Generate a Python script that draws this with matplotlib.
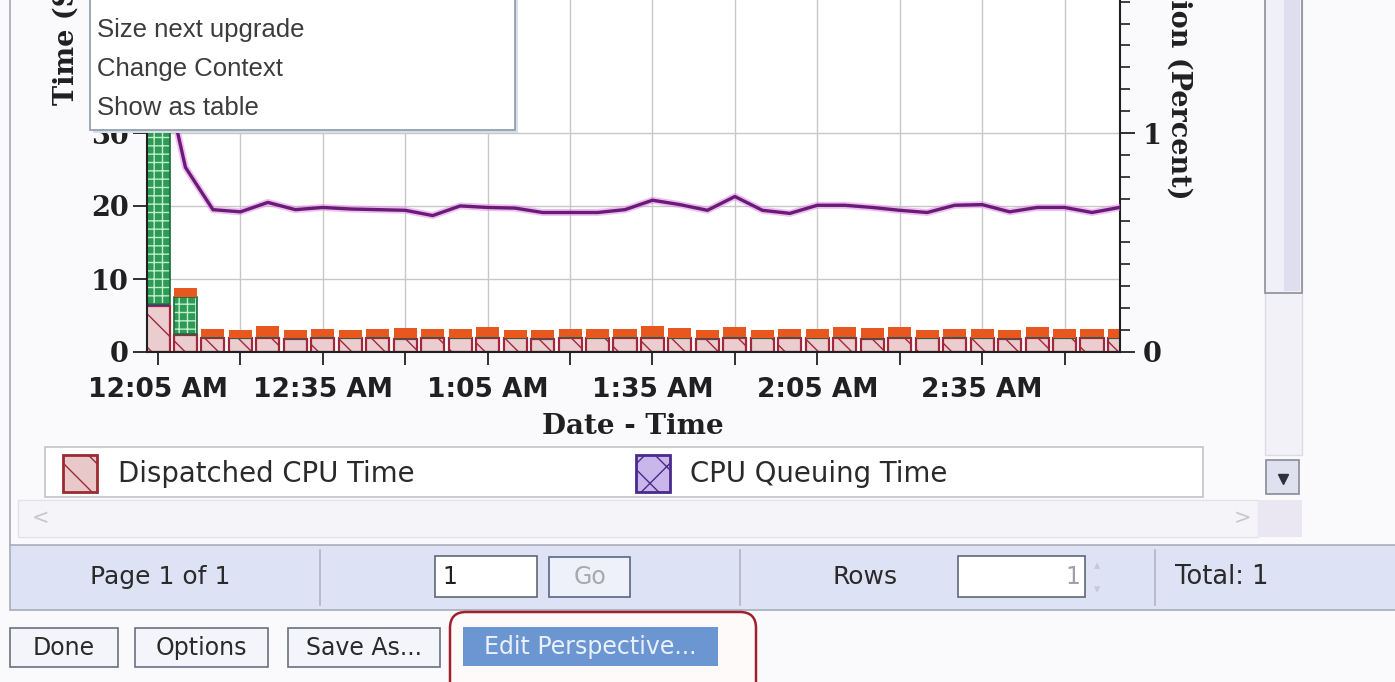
import matplotlib
matplotlib.use("Agg")
import matplotlib.pyplot as plt
import numpy as np
from matplotlib.patches import Rectangle, FancyBboxPatch
from matplotlib.lines import Line2D
from matplotlib.transforms import Affine2D
from matplotlib.ticker import MultipleLocator

W, H = 1395, 682

# 5 minute intervals
times = ["12:05 AM", "12:10 AM", "12:15 AM", "12:20 AM", "12:25 AM", "12:30 AM",
         "12:35 AM", "12:40 AM", "12:45 AM", "12:50 AM", "12:55 AM", "1:00 AM",
         "1:05 AM", "1:10 AM", "1:15 AM", "1:20 AM", "1:25 AM", "1:30 AM",
         "1:35 AM", "1:40 AM", "1:45 AM", "1:50 AM", "1:55 AM", "2:00 AM",
         "2:05 AM", "2:10 AM", "2:15 AM", "2:20 AM", "2:25 AM", "2:30 AM",
         "2:35 AM", "2:40 AM", "2:45 AM", "2:50 AM", "2:55 AM", "3:00 AM"]

# seconds (left axis)
dispatched_cpu = [6.3, 2.3, 1.9, 1.85, 1.9, 1.8, 1.9, 1.85, 1.9, 1.8, 1.9, 1.85,
                  1.9, 1.85, 1.8, 1.9, 1.85, 1.9, 1.9, 1.85, 1.8, 1.9, 1.85, 1.9,
                  1.85, 1.9, 1.8, 1.9, 1.85, 1.9, 1.85, 1.8, 1.9, 1.85, 1.9, 1.85]
cpu_queuing = [0.3, 0.2, 0.1, 0.1, 0.1, 0.1, 0.1, 0.1, 0.1, 0.1, 0.1, 0.1,
               0.1, 0.1, 0.1, 0.1, 0.1, 0.1, 0.1, 0.1, 0.1, 0.1, 0.1, 0.1,
               0.1, 0.1, 0.1, 0.1, 0.1, 0.1, 0.1, 0.1, 0.1, 0.1, 0.1, 0.1]
lock_wait = [55.0, 5.1, 0, 0, 0, 0, 0, 0, 0, 0, 0, 0,
             0, 0, 0, 0, 0, 0, 0, 0, 0, 0, 0, 0,
             0, 0, 0, 0, 0, 0, 0, 0, 0, 0, 0, 0]
other_wait = [0.0, 1.2, 1.1, 1.1, 1.5, 1.1, 1.2, 1.1, 1.1, 1.4, 1.1, 1.2,
              1.4, 1.1, 1.1, 1.1, 1.2, 1.1, 1.5, 1.3, 1.1, 1.4, 1.1, 1.1,
              1.2, 1.4, 1.4, 1.4, 1.1, 1.1, 1.2, 1.1, 1.4, 1.2, 1.1, 1.2]
# percent (right axis)
utilization = [1.40, 0.843, 0.650, 0.640, 0.683, 0.650, 0.660, 0.653, 0.650, 0.647,
               0.623, 0.667, 0.660, 0.657, 0.637, 0.637, 0.637, 0.650, 0.693, 0.673,
               0.647, 0.710, 0.647, 0.633, 0.670, 0.670, 0.660, 0.647, 0.637, 0.670,
               0.673, 0.640, 0.660, 0.660, 0.637, 0.660]

menu_items = ["Size next upgrade", "Change Context", "Show as table"]
legend_items = ["Dispatched CPU Time", "CPU Queuing Time"]

fig = plt.figure(figsize=(W / 100, H / 100), dpi=100, facecolor="#fafafc")
# pixel coords, origin top-left
px = Affine2D().scale(1 / W, -1 / H).translate(0, 1) + fig.transFigure


def box(x0, y0, x1, y1, fc, ec="none", lw=1.0, z=5, **kw):
    p = Rectangle((x0, y0), x1 - x0, y1 - y0, transform=px, fc=fc, ec=ec,
                  lw=lw, zorder=z, **kw)
    fig.add_artist(p)
    return p


def txt(x, y, s, size=14, color="#303030", z=12, **kw):
    kw.setdefault("va", "center")
    kw.setdefault("family", "DejaVu Sans")
    return fig.text(x, y, s, transform=px, fontsize=size, color=color,
                    zorder=z, **kw)


# ---- chart ----
ax = fig.add_axes([147 / W, 1 - 352 / H, (1119.5 - 147) / W, 365 / H])
ax.set_facecolor("white")
x = np.arange(len(times))
w = 0.84

b = np.zeros(len(times))
ax.bar(x, dispatched_cpu, w, bottom=b, color="#ebcdd0", edgecolor="#a3263a",
       hatch="\\", lw=1.6, zorder=2)
b += np.array(dispatched_cpu)
ax.bar(x, cpu_queuing, w, bottom=b, color="#5a2a8a", lw=0, zorder=2)
b += np.array(cpu_queuing)
ax.bar(x, lock_wait, w, bottom=b, color="#2f9a55", edgecolor="#bdf0cc",
       hatch="++", lw=0, zorder=2)
ax.bar(x, lock_wait, w, bottom=b, fill=False, edgecolor="#1d6b3a", lw=1.2, zorder=2)
b += np.array(lock_wait)
ax.bar(x, other_wait, w, bottom=b, color="#e8571e", lw=0, zorder=2)

ax.set_xlim(-0.4, 35.0)
ax.set_ylim(0, 50)
ax.set_axisbelow(True)
ax.grid(True, color="#c8c8c8", lw=1)

ax.set_xticks(x[::3])
ax.set_xticklabels([times[i] if i % 6 == 0 else "" for i in x[::3]])
ax.set_yticks([0, 10, 20, 30])
ax.tick_params(axis="x", direction="out", length=9, width=1.3, pad=9, labelsize=19,
               colors="#202020")
ax.tick_params(axis="y", direction="out", length=10, width=1.3, pad=3, labelsize=19.5,
               colors="#202020")
for lbl in ax.get_xticklabels():
    lbl.set_fontfamily("DejaVu Sans")
    lbl.set_fontweight("bold")
for lbl in ax.get_yticklabels():
    lbl.set_fontfamily("DejaVu Serif")
    lbl.set_fontweight("bold")
for s in ["left", "bottom"]:
    ax.spines[s].set_linewidth(1.5)
    ax.spines[s].set_color("#202020")
ax.spines["top"].set_visible(False)
ax.spines["right"].set_visible(False)

ax2 = ax.twinx()
ax2.plot(x, utilization, color="#e48be6", lw=5, alpha=0.55, zorder=3)
ax2.plot(x, utilization, color="#6a1b78", lw=2.4, zorder=4)
ax2.set_ylim(0, 50 / 30)
ax2.set_yticks([0, 1])
ax2.yaxis.set_minor_locator(MultipleLocator(0.1))
ax2.tick_params(axis="y", which="major", direction="out", length=11, width=1.3,
                pad=6, labelsize=19.5, colors="#202020")
ax2.tick_params(axis="y", which="minor", direction="out", length=7, width=1.2,
                colors="#202020")
for lbl in ax2.get_yticklabels():
    lbl.set_fontfamily("DejaVu Serif")
    lbl.set_fontweight("bold")
for s in ["left", "bottom", "top"]:
    ax2.spines[s].set_visible(False)
ax2.spines["right"].set_linewidth(1.5)
ax2.spines["right"].set_color("#202020")

txt(66, 105, "Time (Seconds)", size=19.5, color="#202020", rotation=90,
    ha="center", va="bottom", family="DejaVu Serif", weight="bold", z=3)
txt(1179, 200, "CPU Utilization (Percent)", size=19.5, color="#202020",
    rotation=270, ha="center", va="bottom", family="DejaVu Serif",
    weight="bold", z=3)
txt(633, 427, "Date - Time", size=20, color="#202020", ha="center",
    family="DejaVu Serif", weight="bold", z=3)

# ---- context menu ----
box(93, -5, 518, 133, "#d9dde5", z=9)
box(90, -5, 515, 130, "white", "#8c9aa8", lw=1.2, z=10)
for i, item in enumerate(menu_items):
    txt(97, 30 + 39 * i, item, size=18.5, color="#3c3c3c", family="Liberation Sans", z=11)

# ---- panel frame / scrollbars ----
fig.add_artist(Line2D([10, 10], [0, 545], transform=px, color="#a8a8b0", lw=1.2, zorder=5))
box(1265, 0, 1302, 455, "#f1f1f7", "#dcdce6", z=5)
box(1265, -5, 1302, 293, "#f0f0f8", "#8e8e98", lw=1.2, z=6)
box(1284, -5, 1300, 291, "#dedeee", z=6)
box(1266, 460, 1299, 494, "#e0e1ef", "#8a8a98", lw=1.2, z=6)
fig.add_artist(Line2D([1282.5], [479], transform=px, marker="v", ms=7,
                      color="#303040", zorder=7))

# legend
box(45, 447, 1203, 497, "white", "#c4c4c8", lw=1.2, z=5)
box(63, 455, 97, 492, "#e8c8c8", "#9b2a32", lw=2, z=6, hatch="\\")
txt(118, 474, legend_items[0], size=19.8, color="#2a2a2a")
box(636, 455, 670, 492, "#c9b6ea", "#4b2a8c", lw=2, z=6, hatch="x")
txt(690, 474, legend_items[1], size=19.8, color="#2a2a2a")

# horizontal scroll
box(18, 500, 1258, 537, "#f5f5f9", "#e2e2ea", z=5)
box(1258, 500, 1302, 537, "#ebe7f2", z=5)
txt(40, 518, "<", size=15, color="#c8c8cc", ha="center")
txt(1243, 518, ">", size=15, color="#c8c8cc", ha="center")

# ---- paging toolbar ----
box(10, 545, 1400, 610, "#dde2f4", "#a8acb8", lw=1.2, z=5)
for dx in [320, 740, 1155]:
    fig.add_artist(Line2D([dx, dx], [550, 605], transform=px, color="#b0b4c4",
                          lw=1.2, zorder=6))
txt(160, 577, "Page 1 of 1", size=18, color="#2a2a2a", ha="center")
box(435, 556, 537, 597, "white", "#606878", lw=1.2, z=6)
txt(442, 577, "1", size=17, color="#202020")
box(549, 557, 630, 597, "#eef0fa", "#5a6688", lw=1.2, z=6)
txt(590, 577, "Go", size=17, color="#a8a8b0", ha="center")
txt(865, 577, "Rows", size=18, color="#2a2a2a", ha="center")
box(958, 556, 1085, 597, "white", "#606878", lw=1.2, z=6)
txt(1080, 577, "1", size=17, color="#a0a0a8", ha="right")
txt(1097, 566, "▴", size=9, color="#c8c8d0", ha="center")
txt(1097, 590, "▾", size=9, color="#c8c8d0", ha="center")
txt(1175, 577, "Total: 1", size=18.5, color="#2a2a2a")

# ---- buttons ----
buttons = [("Done", 10, 118), ("Options", 135, 268), ("Save As...", 288, 440)]
for label, x0, x1 in buttons:
    box(x0, 628, x1, 667, "#f3f5fa", "#6a7080", lw=1.2, z=6)
    txt((x0 + x1) / 2, 648, label, size=17, color="#2a2a2a", ha="center")
rr = FancyBboxPatch((450, 612), 306, 90, boxstyle="round,pad=0,rounding_size=16",
                    transform=px, fc="#fffafa", ec="#a02030", lw=1.8, zorder=6)
fig.add_artist(rr)
box(463, 627, 718, 666, "#6b96d2", z=7)
txt(590, 647, "Edit Perspective...", size=17, color="#eaf0fc", ha="center")

fig.savefig("out.png", dpi=100, facecolor=fig.get_facecolor())
